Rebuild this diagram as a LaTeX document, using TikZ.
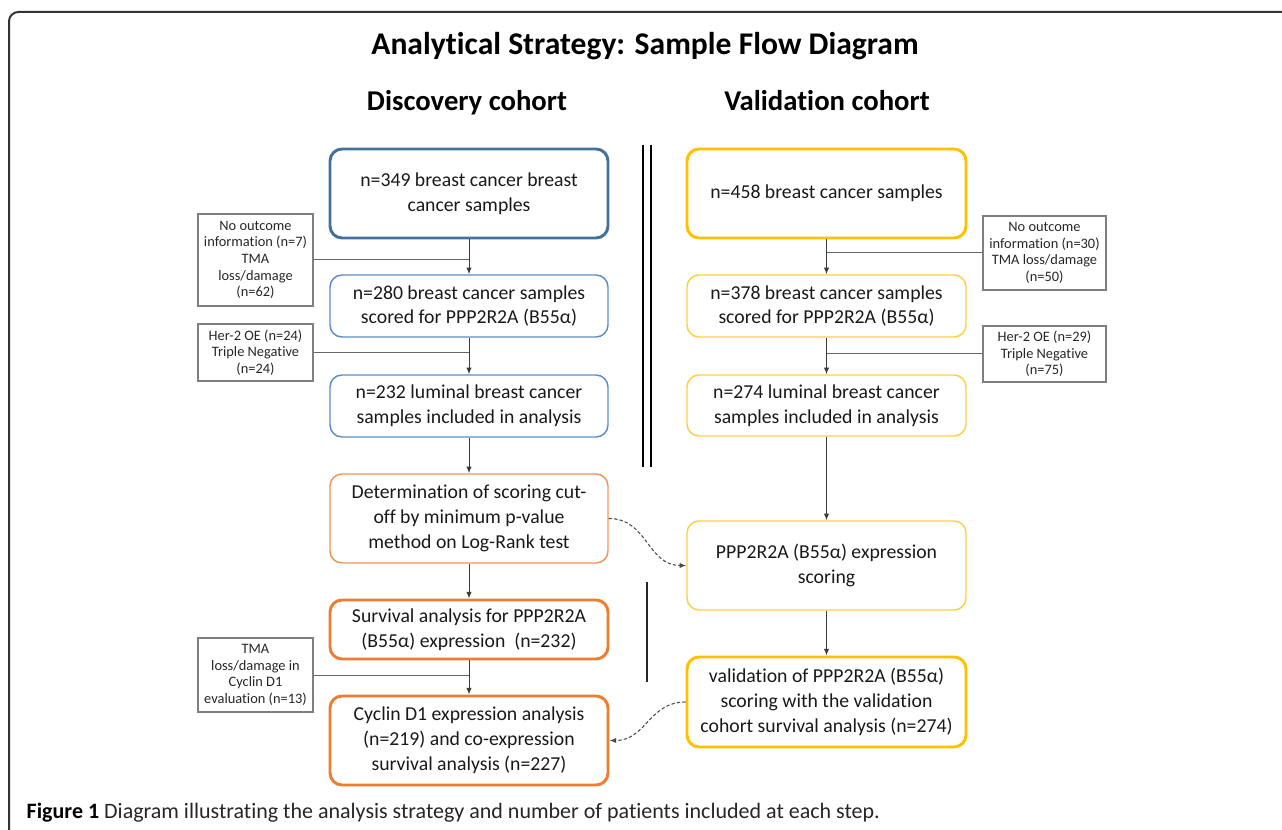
\documentclass[tikz,border=0pt]{standalone}
\usepackage{fontspec}
\setmainfont{Carlito}[Ligatures=NoCommon]
\usetikzlibrary{arrows.meta}
\definecolor{bluethick}{HTML}{41719C}
\definecolor{bluethin}{HTML}{5A8DC6}
\definecolor{orathin}{HTML}{F19358}
\definecolor{orathick}{HTML}{ED7D31}
\definecolor{yelthin}{HTML}{FFCF3F}
\definecolor{yelthick}{HTML}{FFC000}
\definecolor{sidegray}{HTML}{7F7F7F}
\definecolor{linegray}{HTML}{3A3A3A}
\tikzset{
  mainbox/.style={rounded corners=9pt, align=center, inner sep=2pt,
    font=\fontsize{14.8}{18.6}\selectfont, text=black!90},
  thickb/.style={mainbox, line width=2.2pt},
  thinb/.style={mainbox, line width=1.1pt},
  lcol/.style={minimum width=208.5pt},
  rcol/.style={minimum width=209.25pt},
  sidebox/.style={draw=sidegray, line width=1pt, align=center, inner sep=1pt,
    font=\fontsize{10.8}{12.5}\selectfont, text=black!85},
  sl/.style={sidebox, minimum width=86.25pt},
  sr/.style={sidebox, minimum width=92.25pt},
  arr/.style={draw=linegray, line width=0.75pt, -{Latex[length=5pt,width=4pt]}},
  conn/.style={draw=sidegray!80!black, line width=0.75pt},
  dasharr/.style={draw=black!70, line width=0.8pt, dash pattern=on 2.5pt off 1.6pt,
    -{Latex[length=5pt,width=4pt]}},
  divider/.style={draw=black, line width=2.2pt},
  heading/.style={font=\bfseries\fontsize{21.5}{24}\selectfont, anchor=base},
}
\begin{document}
\begin{tikzpicture}[x=0.75pt, y=-0.75pt]
\useasboundingbox (0,0) rectangle (1282,830);
% frame
\draw[black!80, line width=1.5pt, rounded corners=7pt] (9,836) -- (9,12) -- (1290,12);
% titles
\node[heading, font=\bfseries\fontsize{23.7}{27}\selectfont] (title) at (645,55) {Analytical Strategy: Sample Flow Diagram};
\node[heading] (disc) at (467,111) {Discovery cohort};
\node[heading] (vali) at (827,111) {Validation cohort};
% left column
\node[thickb, lcol, draw=bluethick, minimum height=66.75pt] (l1) at (469,193.5) {n=349 breast cancer breast\\cancer samples};
\node[thinb, lcol, draw=bluethin, minimum height=46.5pt] (l2) at (469,306) {n=280 breast cancer samples\\scored for PPP2R2A (B55α)};
\node[thinb, lcol, draw=bluethin, minimum height=46.5pt] (l3) at (469,406) {n=232 luminal breast cancer\\samples included in analysis};
\node[thinb, lcol, draw=orathin, minimum height=66.75pt] (l4) at (469,518.5) {Determination of scoring cut-\\off by minimum p-value\\method on Log-Rank test};
\node[thickb, lcol, draw=orathick, minimum height=44.25pt] (l5) at (469,629.5) {Survival analysis for PPP2R2A\\(B55α) expression\ \ (n=232)};
\node[thickb, lcol, draw=orathick, minimum height=66.75pt] (l6) at (469,740.5) {Cyclin D1 expression analysis\\(n=219) and co-expression\\survival analysis (n=227)};
% left side boxes
\node[sl, minimum height=69pt] (sl1) at (255.5,260) {No outcome\\information (n=7)\\TMA\\loss/damage\\(n=62)};
\node[sl, minimum height=42.75pt] (sl2) at (255.5,352.5) {Her-2 OE (n=24)\\Triple Negative\\(n=24)};
\node[sl, minimum height=55.5pt] (sl3) at (255.5,675) {TMA\\loss/damage in\\Cyclin D1\\evaluation (n=13)};
% right column
\node[thickb, rcol, draw=yelthick, minimum height=66.75pt] (r1) at (826.5,193.5) {n=458 breast cancer samples};
\node[thinb, rcol, draw=yelthin, minimum height=46.5pt] (r2) at (826.5,306) {n=378 breast cancer samples\\scored for PPP2R2A (B55α)};
\node[thinb, rcol, draw=yelthin, minimum height=45.75pt] (r3) at (826.5,405.5) {n=274 luminal breast cancer\\samples included in analysis};
\node[thinb, rcol, draw=yelthin, minimum height=66.75pt] (r4) at (826.5,565.5) {PPP2R2A (B55α) expression\\scoring};
\node[thickb, rcol, draw=yelthick, minimum height=67.5pt] (r5) at (826.5,702) {validation of PPP2R2A (B55α)\\scoring with the validation\\cohort survival analysis (n=274)};
% right side boxes
\node[sr, minimum height=55.5pt] (sr1) at (1044.5,253) {No outcome\\information (n=30)\\TMA loss/damage\\(n=50)};
\node[sr, minimum height=42pt] (sr2) at (1044.5,354) {Her-2 OE (n=29)\\Triple Negative\\(n=75)};
% arrows left
\draw[arr] (l1.south) -- (l2.north);
\draw[arr] (l2.south) -- (l3.north);
\draw[arr] (l3.south) -- (l4.north);
\draw[arr] (l4.south) -- (l5.north);
\draw[arr] (l5.south) -- (l6.north);
\draw[conn] (sl1.east) -- (sl1.east -| l1.south);
\draw[conn] (sl2.east) -- (sl2.east -| l2.south);
\draw[conn] (sl3.east) -- (sl3.east -| l5.south);
% arrows right
\draw[arr] (r1.south) -- (r2.north);
\draw[arr] (r2.south) -- (r3.north);
\draw[arr] (r3.south) -- (r4.north);
\draw[arr] (r4.south) -- (r5.north);
\draw[conn] (sr1.west) -- (sr1.west -| r1.south);
\draw[conn] (sr2.west) -- (sr2.west -| r2.south);
% dashed cross links
\draw[dasharr] (l4.east) to[out=0, in=180, looseness=1.1] (r4.west);
\draw[dasharr] (r5.west) to[out=180, in=0, looseness=1.1] (l6.east);
% dividers
\coordinate (d1a) at (643,145); \coordinate (d1b) at (643,467);
\coordinate (d2a) at (651,145); \coordinate (d2b) at (651,467);
\coordinate (d3a) at (647,582); \coordinate (d3b) at (647,682);
\draw[divider] (d1a) -- (d1b);
\draw[divider] (d2a) -- (d2b);
\draw[divider, line width=1.5pt, draw=black!85] (d3a) -- (d3b);
% caption
\node[anchor=base west, font=\fontsize{16.5}{19}\selectfont, text=black!85] (cap) at (22,818) {\textbf{\color{black}Figure 1} Diagram illustrating the analysis strategy and number of patients included at each step.};
\end{tikzpicture}
\end{document}
